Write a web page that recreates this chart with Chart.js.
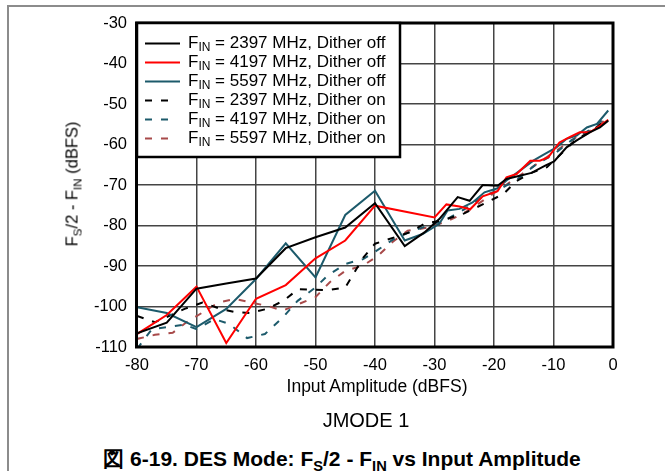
<!DOCTYPE html>
<html>
<head>
<meta charset="utf-8">
<script src="https://cdn.jsdelivr.net/npm/chart.js@4/dist/chart.umd.min.js"></script>
<style>
  html,body{margin:0;padding:0;background:#fff}
  body{width:665px;height:471px;position:relative;overflow:hidden;font-family:"Liberation Sans",Arial,sans-serif}
  #frame{position:absolute;left:7px;top:5px;right:-2px;bottom:-2px;border-left:2px solid #8c8c8c;border-top:2px solid #8c8c8c}
  #wrap{position:absolute;left:0;top:0}
  .t{position:absolute;white-space:nowrap;color:#000;transform:translate(-50%,-50%)}
  sub{font-size:70%;vertical-align:-0.35em;line-height:0}
  #ytitle{left:72px;top:184px;font-size:16.5px;transform:translate(-50%,-50%) rotate(-90deg)}
  #xtitle{left:377px;top:386px;font-size:17.5px}
  #mode{left:366px;top:420px;font-size:20px}
  #cap{left:342px;top:459px;font-size:21px;font-weight:bold}
</style>
</head>
<body>
<div id="frame"></div>
<div id="wrap"><canvas id="chart" width="665" height="400"></canvas></div>
<div class="t" id="ytitle">F<sub>S</sub>/2 - F<sub>IN</sub> (dBFS)</div>
<div class="t" id="xtitle">Input Amplitude (dBFS)</div>
<div class="t" id="mode">JMODE 1</div>
<div class="t" id="cap">図 6-19. DES Mode: F<sub>S</sub>/2 - F<sub>IN</sub> vs Input Amplitude</div>
<script>
// ---- data (input amplitude dBFS -> Fs/2-Fin dBFS) ----
const xTicks = [-80,-70,-60,-50,-40,-30,-20,-10,0];
const yTicks = [-110,-100,-90,-80,-70,-60,-50,-40,-30];

const amp2397Off = [-80,-75,-70,-65,-60,-55,-50,-45,-40,-35,-31.7,-29.2,-26.1,-24.1,-21.9,-19.4,-17.9,-13.7,-11.4,-9.9,-7.8,-6.1,-3.9,-2.2,-0.8];
const val2397Off = [-106.6,-104.0,-95.6,-94.3,-93.1,-85.6,-82.9,-80.5,-74.5,-85.1,-81.7,-78.4,-73.0,-73.9,-70.0,-70.2,-68.5,-67.0,-65.2,-64.2,-60.7,-59.0,-57.0,-55.8,-54.1];

const amp4197Off = [-80,-75,-70,-65,-60,-55,-50,-45,-40,-30,-28,-25.8,-24,-21.9,-19.4,-17.9,-16.2,-13.9,-12.3,-10.9,-9.0,-7.3,-5.6,-3.9,-2.2,-0.8];
const val4197Off = [-106.8,-102.1,-95.1,-109.0,-98.1,-94.7,-88.1,-83.7,-75.1,-78.0,-74.8,-75.3,-76.0,-72.8,-71.5,-68.1,-67.3,-64.0,-64.0,-63.2,-59.5,-58.2,-57.0,-57.0,-55.4,-53.9];

const amp5597Off = [-80,-75,-70,-65,-60,-55,-50,-45,-40,-35,-32,-29.2,-27.8,-25.8,-23.6,-21.6,-19.4,-17.9,-15.7,-13.4,-11.8,-9.5,-7.8,-6.1,-4.4,-2.7,-0.8];
const val5597Off = [-100.2,-101.6,-105.1,-100.6,-93.2,-84.4,-92.8,-77.4,-71.4,-83.7,-82.1,-79.6,-76.3,-75.9,-74.3,-71.8,-70.8,-68.9,-66.5,-64.0,-62.6,-60.7,-58.6,-57.8,-55.8,-54.9,-51.6];

const amp2397On = [-80,-77,-72,-69,-66,-63.5,-61,-58.2,-55.4,-52.9,-48,-45,-42,-40,-34.2,-31.6,-28.8,-25,-21.2,-18.4,-16.2,-13.7,-11.1,-8.5,-6.1,-3.9,-1.3];
const val2397On = [-102.3,-103.9,-100.6,-99.0,-100.6,-101.4,-101.6,-100.6,-98.6,-95.7,-96.0,-95.3,-88.0,-84.5,-81.7,-79.5,-78.8,-77.0,-74.3,-72.2,-69.0,-67.0,-65.6,-62.0,-58.6,-57.0,-54.1];

const amp4197On = [-80,-77.5,-72,-70,-67,-64.5,-61.5,-58.5,-55.5,-53,-50,-48,-45,-42,-40,-37,-34,-31,-28,-25,-22,-19,-16,-13,-10,-7,-4,-1];
const val4197On = [-110.5,-105.6,-104.5,-105.6,-103.1,-104.3,-107.8,-106.8,-102.7,-98.6,-95.3,-92.4,-89.5,-88.3,-86.5,-83.5,-81.5,-80.0,-78.5,-76.0,-73.0,-71.0,-68.5,-65.0,-62.5,-59.0,-56.5,-53.0];

const amp5597On = [-80,-77,-74,-71.7,-69,-66.3,-63.5,-61,-58.2,-55.5,-53,-50,-47.6,-45,-42,-39.5,-37,-34.5,-31,-28,-26.5,-24,-21,-18,-15,-12,-9,-6,-3,-1];
const val5597On = [-108.0,-107.0,-106.5,-103.9,-101.5,-99.0,-98.1,-99.0,-99.8,-101.0,-99.5,-97.7,-94.0,-91.2,-89.9,-87.5,-84.0,-81.3,-80.5,-79.0,-78.0,-76.0,-73.0,-70.0,-67.0,-64.0,-61.0,-58.0,-56.0,-53.5];

const seriesLabels = [
  "2397 MHz, Dither off","4197 MHz, Dither off","5597 MHz, Dither off",
  "2397 MHz, Dither on","4197 MHz, Dither on","5597 MHz, Dither on"
];
const seriesAmps = [amp2397Off, amp4197Off, amp5597Off, amp2397On, amp4197On, amp5597On];
const seriesVals = [val2397Off, val4197Off, val5597Off, val2397On, val4197On, val5597On];
const seriesColors = ["#000000","#ff0000","#1c5a6b","#000000","#1c5a6b","#a84a4a"];
const seriesDashed = [false,false,false,true,true,true];

const FONT = '"Liberation Sans", Arial, sans-serif';
const DASH = [7,9];

const datasets = seriesLabels.map((l,i)=>({
  label: "FIN = " + l,
  data: seriesAmps[i].map((x,j)=>({x:x, y:seriesVals[i][j]})),
  borderColor: seriesColors[i],
  borderWidth: 2,
  borderDash: seriesDashed[i] ? DASH : [],
  pointRadius: 0,
  tension: 0,
  fill: false,
  order: seriesDashed[i] ? 2 : 1
}));

// thick plot frame + legend box with subscripted text
const decor = {
  id: "decor",
  afterDatasetsDraw(chart){
    const {ctx, chartArea:a} = chart;
    ctx.save();
    ctx.strokeStyle = "#000";
    ctx.lineWidth = 3;
    ctx.setLineDash([]);
    ctx.strokeRect(a.left-0.5, a.top, a.right-a.left+0.5, a.bottom-a.top);

    // legend
    const lx = a.left, ly = a.top, lw = 263, lh = 134;
    ctx.fillStyle = "#fff";
    ctx.fillRect(lx, ly, lw, lh);
    ctx.lineWidth = 2.5;
    ctx.strokeRect(lx, ly, lw, lh);
    chart.data.datasets.forEach((ds,i)=>{
      const y = ly + 20.5 + i*19;
      const dashed = ds.borderDash.length > 0;
      ctx.strokeStyle = ds.borderColor;
      ctx.lineWidth = 2;
      ctx.setLineDash(dashed ? DASH : []);
      ctx.beginPath();
      ctx.moveTo(lx+8, y);
      ctx.lineTo(lx+(dashed ? 31 : 43), y);
      ctx.stroke();
      ctx.setLineDash([]);
      ctx.fillStyle = "#000";
      ctx.textBaseline = "middle";
      ctx.textAlign = "left";
      let tx = lx + 51;
      ctx.font = "17px " + FONT;
      ctx.fillText("F", tx, y);
      tx += ctx.measureText("F").width;
      ctx.font = "12px " + FONT;
      ctx.fillText("IN", tx, y+4.5);
      tx += ctx.measureText("IN").width;
      ctx.font = "17px " + FONT;
      ctx.fillText(" = " + seriesLabels[i], tx, y);
    });
    ctx.restore();
  }
};

new Chart(document.getElementById("chart"), {
  type: "line",
  data: { datasets: datasets },
  options: {
    responsive: false,
    animation: false,
    layout: { padding: { left:0, top:23, right:52, bottom:0 } },
    plugins: { legend:{display:false}, tooltip:{enabled:false} },
    scales: {
      x: {
        type: "linear", min: xTicks[0], max: xTicks[xTicks.length-1],
        afterBuildTicks: s => { s.ticks = xTicks.map(v=>({value:v})); },
        afterFit: s => { s.height = 53; },
        ticks: { color:"#000", font:{size:16.5, family:FONT}, padding:9, maxRotation:0, autoSkip:false },
        grid: { color:"#444", lineWidth:1.5, drawTicks:false },
        border: { display:false }
      },
      y: {
        type: "linear", min: yTicks[0], max: yTicks[yTicks.length-1],
        afterBuildTicks: s => { s.ticks = yTicks.map(v=>({value:v})); },
        afterFit: s => { s.width = 137; },
        ticks: { color:"#000", font:{size:16.5, family:FONT}, padding:10, autoSkip:false },
        grid: { color:"#444", lineWidth:1.5, drawTicks:false },
        border: { display:false }
      }
    }
  },
  plugins: [decor]
});
</script>
</body>
</html>
